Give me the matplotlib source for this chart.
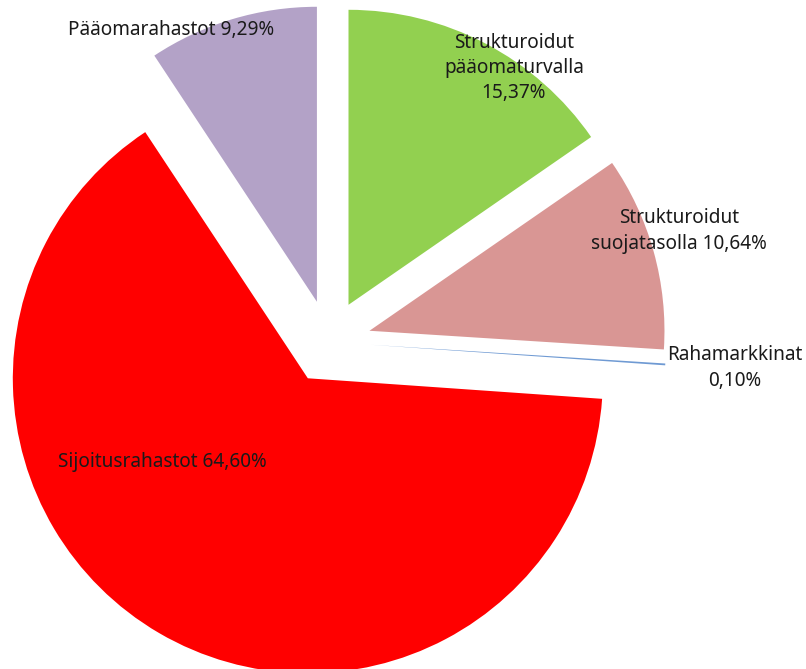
import matplotlib
matplotlib.use("Agg")
import matplotlib.pyplot as plt

categories = ["Strukturoidut pääomaturvalla", "Strukturoidut suojatasolla",
              "Rahamarkkinat", "Sijoitusrahastot", "Pääomarahastot"]
values = [15.37, 10.64, 0.10, 64.60, 9.29]
labels = ["Strukturoidut\npääomaturvalla\n15,37%",
          "Strukturoidut\nsuojatasolla 10,64%",
          "Rahamarkkinat\n0,10%",
          "Sijoitusrahastot 64,60%",
          "Pääomarahastot 9,29%"]
colors = ["#92D050", "#D99694", "#6F9AD3", "#FF0000", "#B3A2C7"]

W, H = 806, 669
fig = plt.figure(figsize=(W / 100, H / 100), dpi=100)
ax = fig.add_axes([0, 0, 1, 1])

cx, cy, R = 329, H - 342, 295
gap = 42
ax.pie(values, colors=colors, startangle=90, counterclock=False,
       explode=[gap] * len(values), radius=R, center=(cx, cy),
       wedgeprops=dict(linewidth=0), frame=False)
ax.set_xlim(0, W)
ax.set_ylim(0, H)
ax.set_aspect("equal")
ax.axis("off")

label_pos = [(514, 68), (679, 231), (735, 368), (162, 462), (171, 30)]
for lab, (x, y) in zip(labels, label_pos):
    ax.text(x, H - y, lab, ha="center", va="center", fontsize=13.7,
            family="Noto Sans", color="#1a1a1a", linespacing=1.35)

fig.savefig("out.png", dpi=100)
